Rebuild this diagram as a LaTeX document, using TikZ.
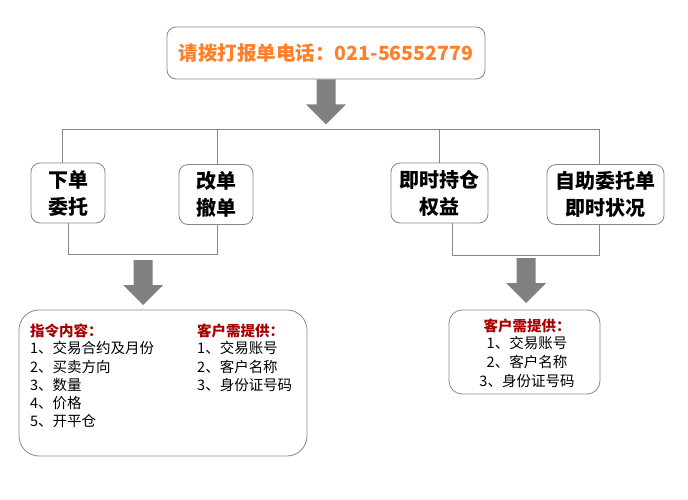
\documentclass[tikz,border=0pt]{standalone}
\usepackage{fontspec}
\setmainfont{Noto Sans CJK SC}
\definecolor{arancio}{RGB}{255,128,40}
\definecolor{rossoscuro}{RGB}{170,0,0}
\definecolor{grigiolinea}{RGB}{136,136,136}
\definecolor{grigiofreccia}{RGB}{128,128,128}

\begin{document}
\begin{tikzpicture}[x=1pt, y=-1pt,
    casella/.style={draw=grigiolinea, line width=0.8pt, rounded corners=9pt, fill=white, align=center, inner sep=0pt, font=\fontsize{20}{27}\selectfont\bfseries},
    riquadro/.style={draw=grigiolinea, line width=0.8pt, fill=white},
    voce/.style={inner sep=0pt, font=\fontsize{14.5}{17}\selectfont},
    titolo/.style={voce, text=rossoscuro, font=\fontsize{14.5}{17}\selectfont\bfseries},
    linea/.style={draw=grigiolinea, line width=0.8pt},
    frecciona/.pic={\fill[grigiofreccia] (-9.5,0) -- (9.5,0) -- (9.5,25) -- (20,25) -- (0,45) -- (-20,25) -- (-9.5,25) -- cycle;}]
    % area del disegno
    \useasboundingbox (0,0) rectangle (688,500);

    % casella in alto con il numero di telefono
    \node[casella, minimum width=318pt, minimum height=52pt, text=arancio, font=\fontsize{19.5}{22}\selectfont\bfseries] (telefono) at (326,53) {请拨打报单电话：021-56552779};
    \pic at (telefono.south) {frecciona};

    % le quattro caselle delle operazioni
    \foreach \nome/\x/\y/\w/\testo in {xiadan/68/193/74/{下单\\委托}, gaidan/216/194.5/74/{改单\\撤单}, chicang/439.5/193/97/{即时持仓\\权益}, zhuangkuang/605.5/194.5/117/{自助委托单\\即时状况}} {
        \node[casella, minimum width=\w pt, minimum height=60pt] (\nome) at (\x,\y) {\testo};
    }

    % collegamenti dalla barra in alto
    \draw[linea] ([xshift=-6pt]xiadan.north) -- ++(0,-33) -| ([xshift=-6pt]zhuangkuang.north);
    \draw[linea] ([xshift=1pt]gaidan.north) -- ++(0,-34);
    \draw[linea] (chicang.north) -- ++(0,-33);

    % collegamenti verso il basso
    \draw[linea] (xiadan.south) -- ++(0,31) -| ([xshift=1pt]gaidan.south);
    \draw[linea] ([xshift=13pt]chicang.south) -- ++(0,32) -| ([xshift=-6pt]zhuangkuang.south);
    \coordinate (fsinistra) at (143,260);
    \coordinate (fdestra) at (526,258);
    \pic at (fsinistra) {frecciona};
    \pic at (fdestra) {frecciona};

    % riquadro a sinistra: contenuto dell'ordine
    \node[riquadro, rounded corners=20pt, minimum width=288pt, minimum height=146pt] (istruzioni) at (163,383) {};
    \node[titolo, anchor=west] (tistr) at (30,331) {指令内容：};
    \foreach \testo [count=\i] in {1、交易合约及月份, 2、买卖方向, 3、数量, 4、价格, 5、开平仓} {
        \node[voce, anchor=west] (istr\i) at (30,330+18.3*\i) {\testo};
    }
    \node[titolo, anchor=west] (tcli) at (197,331) {客户需提供：};
    \foreach \testo [count=\i] in {1、交易账号, 2、客户名称, 3、身份证号码} {
        \node[voce, anchor=west] (cli\i) at (197,330+18.3*\i) {\testo};
    }

    % riquadro a destra: dati del cliente
    \node[riquadro, rounded corners=13pt, minimum width=151pt, minimum height=84pt] (cliente) at (524.5,352) {};
    \node[titolo] (tcliente) at (527,326) {客户需提供：};
    \foreach \testo [count=\i] in {1、交易账号, 2、客户名称, 3、身份证号码} {
        \node[voce] (cliente\i) at (527,324+19*\i) {\testo};
    }
\end{tikzpicture}
\end{document}
